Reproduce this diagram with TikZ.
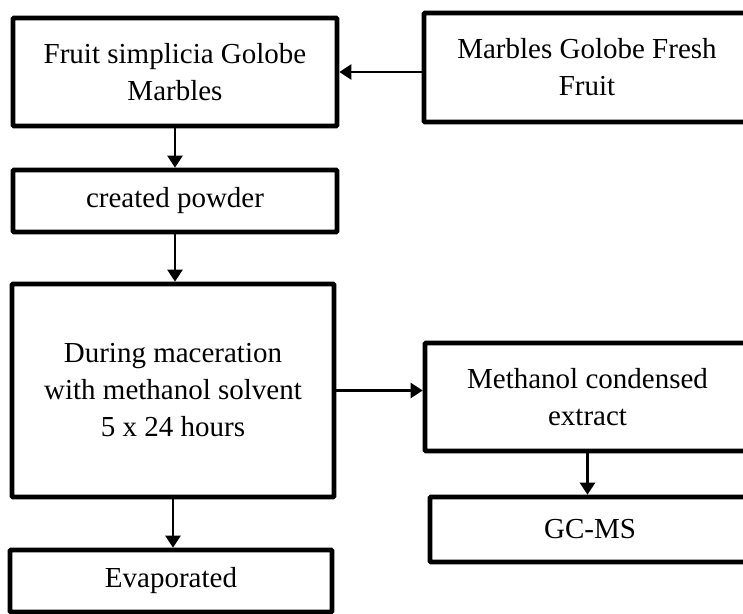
\documentclass[tikz,border=0pt]{standalone}
\usepackage{fontspec}
\setmainfont{Liberation Serif}
\usepackage{tikz}
\tikzset{>=latex}
\usetikzlibrary{arrows.meta}

\begin{document}
\begin{tikzpicture}[x=1pt, y=-1pt,
                line join=miter,
                box/.style={draw, line width=4.6pt, rounded corners=0.8pt, inner sep=0pt,
                            align=center, font=\fontsize{29}{37}\selectfont},
                flow/.style={line width=2.3pt, -{Triangle[length=12pt,width=15pt]}}]
                \useasboundingbox (0,0) rectangle (743,613);
                \clip (0,0) rectangle (743,613);

                % left column
                \node[box, minimum width=324pt, minimum height=108pt] (fruit)  at (175,72)    {Fruit simplicia Golobe\\Marbles};
                \node[box, minimum width=324pt, minimum height=62pt]  (powder) at (175,201)   {created powder};
                \node[box, minimum width=322pt, minimum height=213pt] (macer)  at (173,390.5) {During maceration\\with methanol solvent\\5 x 24 hours};
                \node[box, minimum width=322pt, minimum height=62pt]  (evap)   at (171,581)   {Evaporated};

                % right column (runs off the page)
                \node[box, minimum width=326pt, minimum height=109pt] (fresh)   at (587,67.5)  {Marbles Golobe Fresh\\Fruit};
                \node[box, minimum width=325pt, minimum height=108pt] (extract) at (587.5,397) {Methanol condensed\\extract};
                \node[box, minimum width=320pt, minimum height=65pt]  (gcms)    at (590,529.5) {GC-MS};

                % connectors
                \draw[flow] ([yshift=-4.5pt]fresh.west) -- ([yshift=-4.5pt]fresh.west -| fruit.east);
                \draw[flow] (fruit.south) -- (fruit.south |- powder.north);
                \draw[flow] (powder.south) -- (powder.south |- macer.north);
                \draw[flow] (macer.south) -- (macer.south |- evap.north);
                \draw[flow] (macer.east) -- (macer.east -| extract.west);
                \draw[flow] (extract.south) -- (extract.south |- gcms.north);

            \end{tikzpicture}
\end{document}
